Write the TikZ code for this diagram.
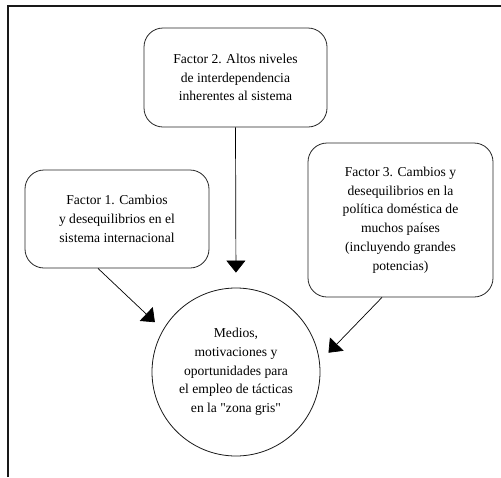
\documentclass[tikz,border=0pt]{standalone}
\usepackage{fontspec}
\setmainfont{Liberation Serif}
\usetikzlibrary{arrows.meta,shapes.geometric}
\begin{document}
\begin{tikzpicture}[x=1pt,y=-1pt,
  factorbox/.style={draw=black!85,line width=0.8pt,rounded corners=19pt,align=center,
    inner sep=0pt,font=\fontsize{13.6}{18.7}\selectfont},
  centre/.style={draw=black!90,line width=0.8pt,circle,minimum size=168pt,inner sep=0pt,
    align=center,font=\fontsize{13.6}{18.7}\selectfont},
  link/.style={line width=0.7pt,-{Triangle[width=19pt,length=12pt]}},
  frameline/.style={line width=1.3pt,black!90}]
\useasboundingbox (0,0) rectangle (501,477);
\coordinate (ftl) at (8,6);
\coordinate (ftr) at (501,6);
\coordinate (fbl) at (8,477);
\draw[frameline] (fbl) -- (ftl) -- (ftr);
\node[factorbox,minimum width=183pt,minimum height=99pt] (f2) at (235.5,77.5)
  {Factor 2. Altos niveles\\de interdependencia\\inherentes al sistema};
\node[factorbox,minimum width=184pt,minimum height=98pt] (f1) at (117,219)
  {Factor 1. Cambios\\y desequilibrios en el\\sistema internacional};
\node[factorbox,minimum width=185pt,minimum height=154pt] (f3) at (400.5,220)
  {Factor 3. Cambios y\\desequilibrios en la\\política doméstica de\\muchos países\\(incluyendo grandes\\potencias)};
\node[centre] (c) at (236,372)
  {Medios,\\motivaciones y\\oportunidades para\\el empleo de tácticas\\en la \textquotedbl zona gris\textquotedbl};
\draw[link,shorten >=15pt] (f2.south) -- (c.north);
\draw[link,shorten >=11pt] ([xshift=-19pt]f1.south) -- (c.150.5);
\draw[link,shorten >=12.5pt] ([xshift=-18.5pt]f3.south) -- (c.7.6);
\end{tikzpicture}
\end{document}
